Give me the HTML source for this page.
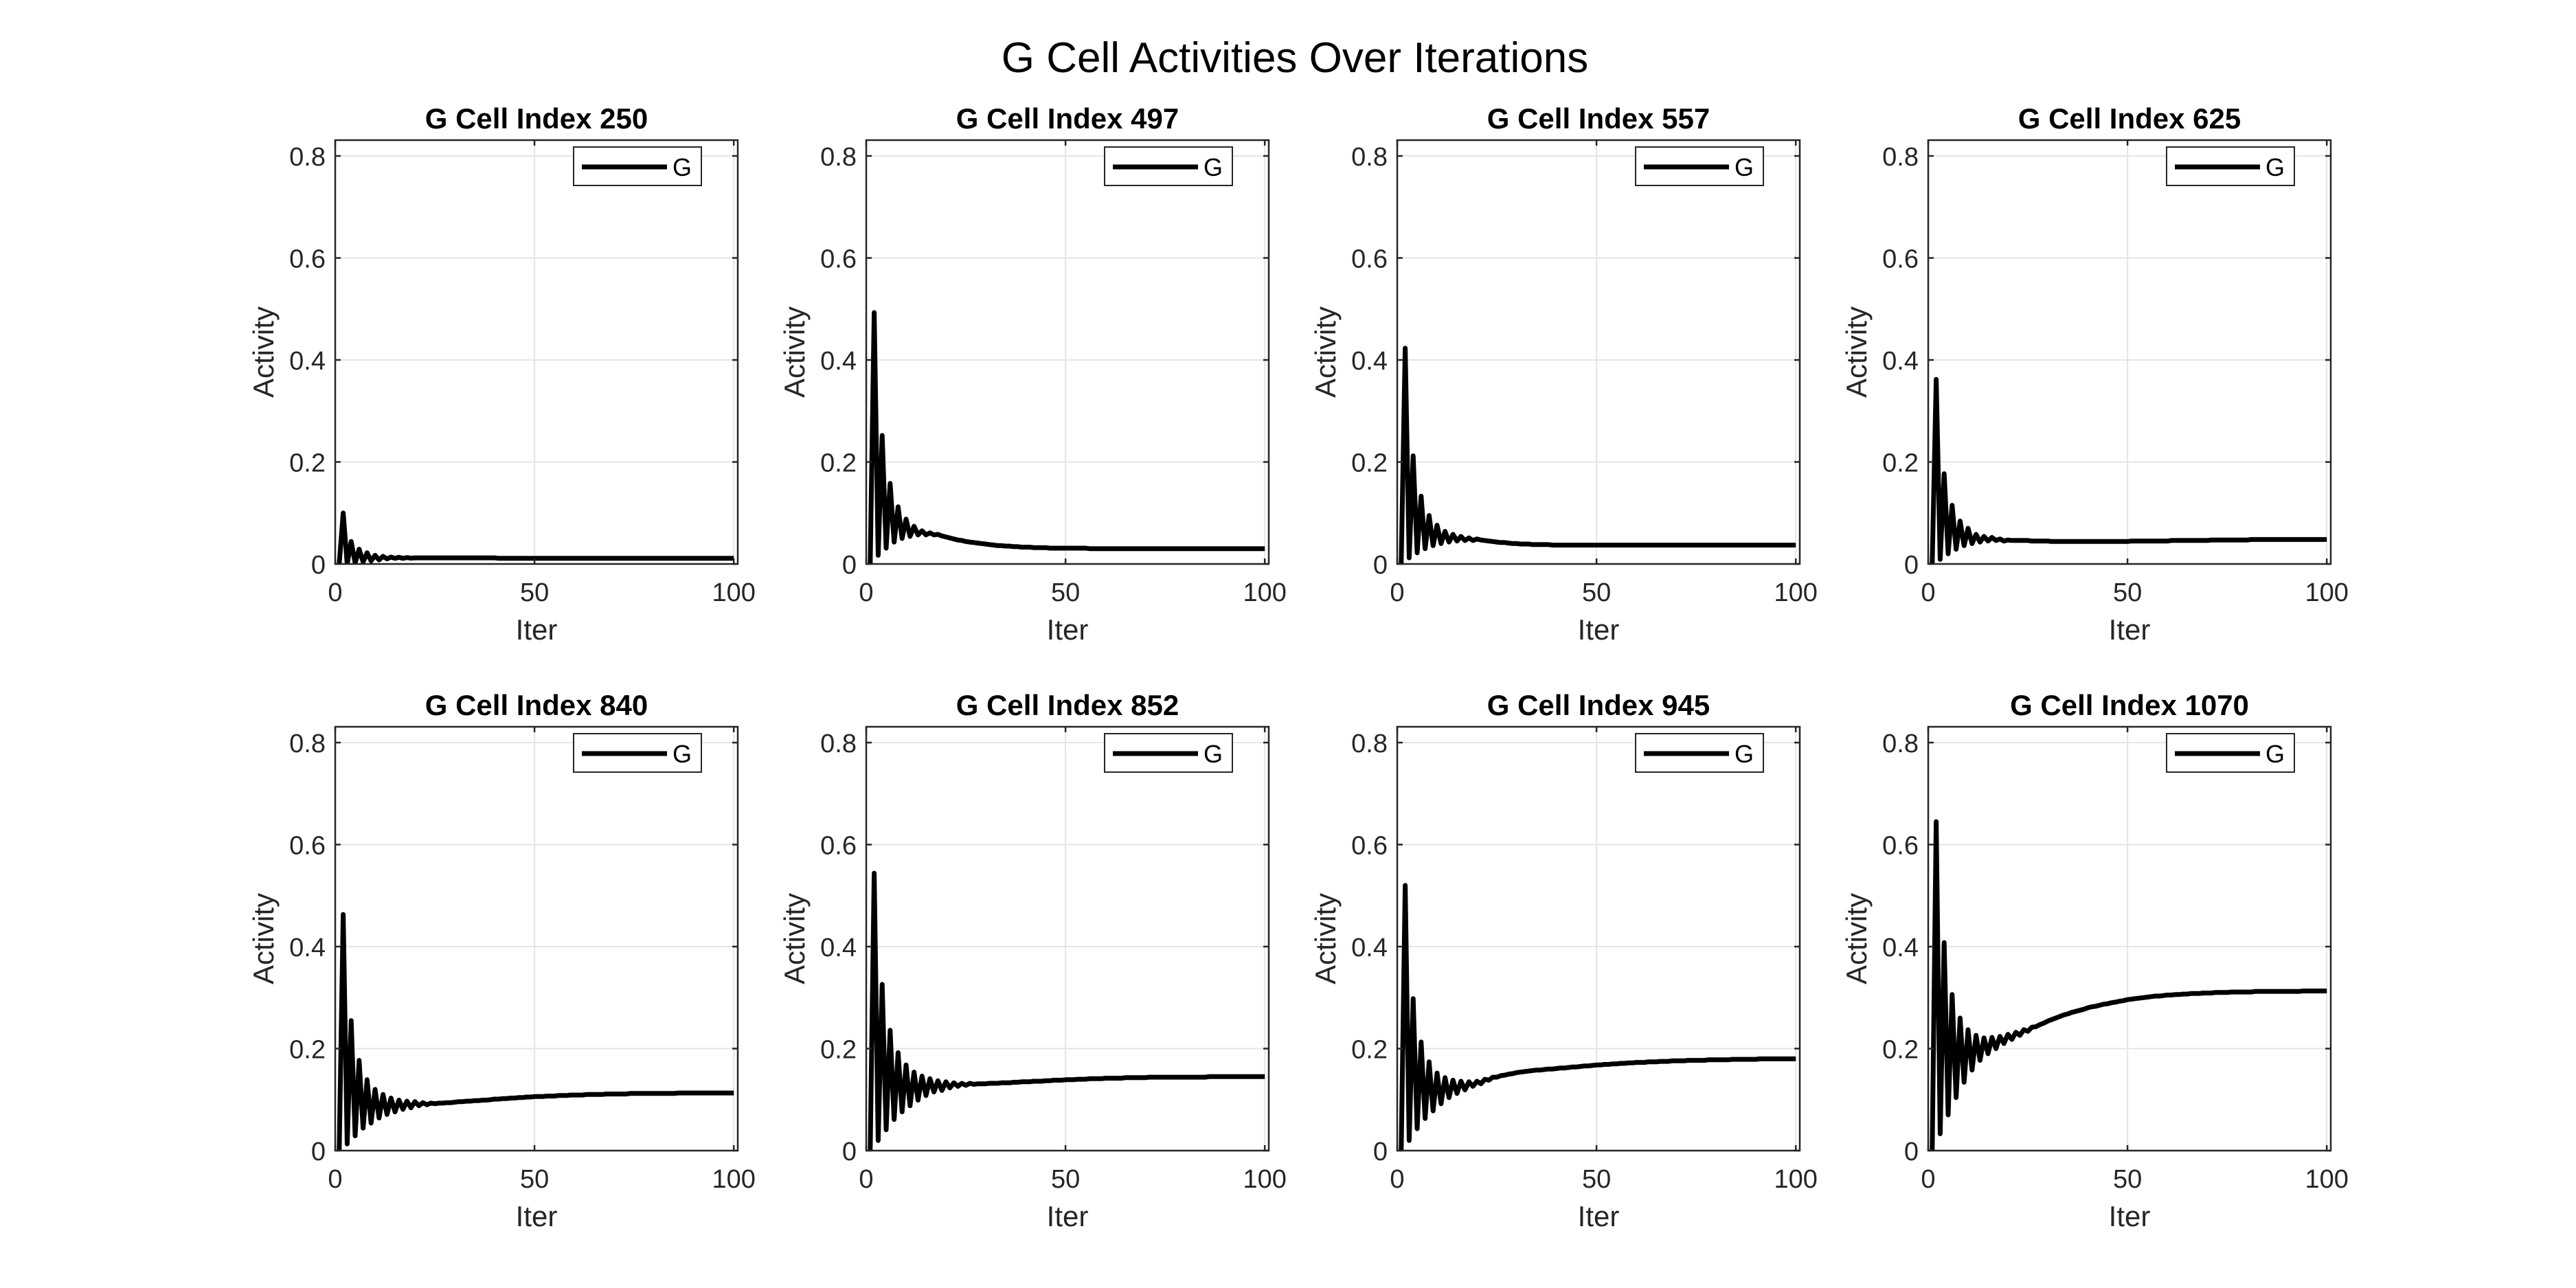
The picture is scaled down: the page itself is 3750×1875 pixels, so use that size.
<!DOCTYPE html>
<html><head><meta charset="utf-8"><style>
html,body{margin:0;padding:0;background:#fff;}
svg{display:block;font-family:"Liberation Sans",Arial,sans-serif;}
</style></head><body>
<svg id="fig" width="3750" height="1875" viewBox="0 0 3750 1875" xmlns="http://www.w3.org/2000/svg">
<rect width="3750" height="1875" fill="#fff"/>
<defs id="defs"></defs>
<text x="1885" y="105" font-size="62" text-anchor="middle" fill="#000">G Cell Activities Over Iterations</text>
</svg>
<script>
const titles = ["G Cell Index 250","G Cell Index 497","G Cell Index 557","G Cell Index 625","G Cell Index 840","G Cell Index 852","G Cell Index 945","G Cell Index 1070"];
const yTicks = [0,0.2,0.4,0.6,0.8];
const yTickLabels = ["0","0.2","0.4","0.6","0.8"];
const xTicks = [0,50,100];
const xTickLabels = ["0","50","100"];
const s250 = [0,0.100,0.000,0.044,0.002,0.029,0.004,0.022,0.006,0.017,
0.008,0.015,0.010,0.0135,0.011,0.013,0.011,0.0125,0.0115,0.012,
0.012,0.012,0.012,0.012,0.012,0.012,0.012,0.012,0.012,0.012,
0.012,0.012,0.012,0.012,0.012,0.012,0.012,0.012,0.012,0.012,
0.011,0.011,0.011,0.011,0.011,0.011,0.011,0.011,0.011,0.011,
0.011,0.011,0.011,0.011,0.011,0.011,0.011,0.011,0.011,0.011,
0.011,0.011,0.011,0.011,0.011,0.011,0.011,0.011,0.011,0.011,
0.011,0.011,0.011,0.011,0.011,0.011,0.011,0.011,0.011,0.011,
0.011,0.011,0.011,0.011,0.011,0.011,0.011,0.011,0.011,0.011,
0.011,0.011,0.011,0.011,0.011,0.011,0.011,0.011,0.011,0.011];
const s497 = [0,0.493,0.017,0.252,0.031,0.158,0.043,0.112,0.050,0.088,
0.054,0.074,0.057,0.065,0.057,0.061,0.057,0.058,0.055,0.053,
0.051,0.049,0.047,0.046,0.044,0.043,0.042,0.041,0.040,0.039,
0.038,0.037,0.036,0.036,0.035,0.035,0.034,0.034,0.033,0.033,
0.033,0.032,0.032,0.032,0.032,0.031,0.031,0.031,0.031,0.031,
0.031,0.031,0.031,0.031,0.031,0.030,0.030,0.030,0.030,0.030,
0.030,0.030,0.030,0.030,0.030,0.030,0.030,0.030,0.030,0.030,
0.030,0.030,0.030,0.030,0.030,0.030,0.030,0.030,0.030,0.030,
0.030,0.030,0.030,0.030,0.030,0.030,0.030,0.030,0.030,0.030,
0.030,0.030,0.030,0.030,0.030,0.030,0.030,0.030,0.030,0.030];
const s557 = [0,0.423,0.012,0.212,0.022,0.133,0.030,0.095,0.036,0.076,
0.040,0.064,0.043,0.058,0.045,0.054,0.046,0.051,0.046,0.049,
0.047,0.046,0.045,0.044,0.043,0.042,0.042,0.041,0.040,0.040,
0.039,0.039,0.039,0.038,0.038,0.038,0.038,0.038,0.037,0.037,
0.037,0.037,0.037,0.037,0.037,0.037,0.037,0.037,0.037,0.037,
0.037,0.037,0.037,0.037,0.037,0.037,0.037,0.037,0.037,0.037,
0.037,0.037,0.037,0.037,0.037,0.037,0.037,0.037,0.037,0.037,
0.037,0.037,0.037,0.037,0.037,0.037,0.037,0.037,0.037,0.037,
0.037,0.037,0.037,0.037,0.037,0.037,0.037,0.037,0.037,0.037,
0.037,0.037,0.037,0.037,0.037,0.037,0.037,0.037,0.037,0.037];
const s625 = [0,0.362,0.009,0.177,0.020,0.115,0.029,0.084,0.036,0.070,
0.040,0.058,0.043,0.054,0.045,0.052,0.046,0.049,0.045,0.047,
0.046,0.046,0.046,0.046,0.046,0.045,0.045,0.045,0.045,0.045,
0.044,0.044,0.044,0.044,0.044,0.044,0.044,0.044,0.044,0.044,
0.044,0.044,0.044,0.044,0.044,0.044,0.044,0.044,0.044,0.044,
0.045,0.045,0.045,0.045,0.045,0.045,0.045,0.045,0.045,0.045,
0.046,0.046,0.046,0.046,0.046,0.046,0.046,0.046,0.046,0.046,
0.047,0.047,0.047,0.047,0.047,0.047,0.047,0.047,0.047,0.047,
0.048,0.048,0.048,0.048,0.048,0.048,0.048,0.048,0.048,0.048,
0.048,0.048,0.048,0.048,0.048,0.048,0.048,0.048,0.048,0.048];
const s840 = [0,0.463,0.013,0.255,0.029,0.177,0.044,0.139,0.054,0.120,
0.064,0.110,0.071,0.103,0.076,0.099,0.081,0.097,0.084,0.096,
0.088,0.094,0.090,0.093,0.092,0.093,0.093,0.094,0.094,0.095,
0.096,0.096,0.097,0.097,0.098,0.098,0.099,0.099,0.100,0.101,
0.101,0.102,0.102,0.103,0.103,0.104,0.104,0.105,0.105,0.106,
0.106,0.106,0.107,0.107,0.107,0.108,0.108,0.108,0.109,0.109,
0.109,0.109,0.110,0.110,0.110,0.110,0.110,0.111,0.111,0.111,
0.111,0.111,0.111,0.112,0.112,0.112,0.112,0.112,0.112,0.112,
0.112,0.112,0.112,0.112,0.112,0.113,0.113,0.113,0.113,0.113,
0.113,0.113,0.113,0.113,0.113,0.113,0.113,0.113,0.113,0.113];
const s852 = [0,0.544,0.020,0.326,0.041,0.236,0.061,0.192,0.076,0.168,
0.088,0.154,0.099,0.146,0.108,0.141,0.115,0.137,0.118,0.135,
0.123,0.133,0.126,0.132,0.128,0.132,0.130,0.131,0.131,0.131,
0.132,0.132,0.132,0.133,0.133,0.133,0.134,0.134,0.135,0.135,
0.135,0.136,0.136,0.136,0.137,0.137,0.138,0.138,0.138,0.139,
0.139,0.139,0.140,0.140,0.140,0.141,0.141,0.141,0.141,0.142,
0.142,0.142,0.142,0.142,0.143,0.143,0.143,0.143,0.143,0.143,
0.144,0.144,0.144,0.144,0.144,0.144,0.144,0.144,0.144,0.144,
0.144,0.144,0.144,0.144,0.144,0.145,0.145,0.145,0.145,0.145,
0.145,0.145,0.145,0.145,0.145,0.145,0.145,0.145,0.145,0.145];
const s945 = [0,0.520,0.020,0.298,0.043,0.213,0.063,0.174,0.078,0.152,
0.092,0.143,0.104,0.138,0.112,0.136,0.119,0.135,0.126,0.136,
0.131,0.140,0.138,0.144,0.144,0.147,0.148,0.150,0.151,0.153,
0.154,0.155,0.156,0.157,0.158,0.158,0.159,0.160,0.160,0.161,
0.162,0.162,0.163,0.164,0.164,0.165,0.166,0.166,0.167,0.168,
0.168,0.169,0.169,0.170,0.170,0.171,0.171,0.172,0.172,0.173,
0.173,0.173,0.174,0.174,0.174,0.175,0.175,0.175,0.176,0.176,
0.176,0.176,0.177,0.177,0.177,0.177,0.177,0.178,0.178,0.178,
0.178,0.178,0.178,0.179,0.179,0.179,0.179,0.179,0.179,0.179,
0.180,0.180,0.180,0.180,0.180,0.180,0.180,0.180,0.180,0.180];
const s1070 = [0,0.645,0.033,0.408,0.070,0.306,0.104,0.260,0.134,0.237,
0.158,0.226,0.177,0.221,0.190,0.222,0.200,0.224,0.210,0.228,
0.218,0.232,0.226,0.237,0.234,0.242,0.243,0.247,0.250,0.254,
0.257,0.260,0.263,0.266,0.268,0.271,0.273,0.275,0.277,0.280,
0.282,0.283,0.285,0.287,0.288,0.290,0.291,0.293,0.294,0.296,
0.297,0.298,0.299,0.300,0.301,0.302,0.303,0.303,0.304,0.305,
0.305,0.306,0.306,0.307,0.307,0.308,0.308,0.308,0.309,0.309,
0.309,0.310,0.310,0.310,0.310,0.311,0.311,0.311,0.311,0.311,
0.311,0.312,0.312,0.312,0.312,0.312,0.312,0.312,0.312,0.312,
0.312,0.312,0.312,0.313,0.313,0.313,0.313,0.313,0.313,0.313];
const seriesList = [s250,s497,s557,s625,s840,s852,s945,s1070];

const NS = "http://www.w3.org/2000/svg";
const svg = document.getElementById('fig');
const defs = document.getElementById('defs');
const colLeft = [488,1261,2034,2807], rowTop = [204,1058];
const W = 586, H = 617, XMAX = 101, YMAX = 0.831;
function mk(tag, attrs, parent){const e=document.createElementNS(NS,tag);for(const k in attrs)e.setAttribute(k,attrs[k]);parent.appendChild(e);return e;}

seriesList.forEach((vals, p) => {
  const L = colLeft[p%4], T = rowTop[Math.floor(p/4)], B = T+H, R = L+W;
  const sx = v => L + v/XMAX*W;
  const sy = v => B - v/YMAX*H;
  const cp = mk('clipPath',{id:'clip'+p},defs);
  mk('rect',{x:L,y:T,width:W,height:H},cp);
  const g = mk('g', {}, svg);
  
  
  yTicks.forEach(t => { if (t>0){ const l=mk('line',{x1:L,x2:R,y1:sy(t),y2:sy(t),stroke:'#e5e5e5','stroke-width':2},g);
    
     }});
  xTicks.forEach(t => { if (t>0){ const l=mk('line',{x1:sx(t),x2:sx(t),y1:T,y2:B,stroke:'#e5e5e5','stroke-width':2},g);
    
     }});
  const pts = vals.map((v,i)=> sx(i+1).toFixed(1)+','+sy(v).toFixed(1)).join(' ');
  const line = mk('polyline',{points:pts,fill:'none',stroke:'#000','stroke-width':7,'stroke-linejoin':'round','clip-path':'url(#clip'+p+')'},g);
  
  
  const box = mk('rect',{x:L,y:T,width:W,height:H,fill:'none',stroke:'#262626','stroke-width':2.5},g);
  
  
  yTicks.forEach((t,i) => {
    mk('line',{x1:L,x2:L+8,y1:sy(t),y2:sy(t),stroke:'#262626','stroke-width':2.5},g);
    mk('line',{x1:R,x2:R-8,y1:sy(t),y2:sy(t),stroke:'#262626','stroke-width':2.5},g);
    const tx = mk('text',{x:L-14,y:sy(t)+14,'font-size':38,'text-anchor':'end',fill:'#262626'},g);
    tx.textContent = yTickLabels[i];
    
    
  });
  xTicks.forEach((t,i) => {
    mk('line',{x1:sx(t),x2:sx(t),y1:B,y2:B-8,stroke:'#262626','stroke-width':2.5},g);
    mk('line',{x1:sx(t),x2:sx(t),y1:T,y2:T+8,stroke:'#262626','stroke-width':2.5},g);
    const tx = mk('text',{x:sx(t),y:B+54,'font-size':38,'text-anchor':'middle',fill:'#262626'},g);
    tx.textContent = xTickLabels[i];
    
    
  });
  const xl = mk('text',{x:L+W/2,y:B+110,'font-size':42,'text-anchor':'middle',fill:'#262626'},g);
  xl.textContent = 'Iter';
  
  
  const yl = mk('text',{x:0,y:0,'font-size':42,'text-anchor':'middle',fill:'#262626',transform:`translate(${L-90},${T+H/2}) rotate(-90)`},g);
  yl.textContent = 'Activity';
  
  
  const tt = mk('text',{x:L+W/2,y:T-17,'font-size':42,'font-weight':'bold','text-anchor':'middle',fill:'#000'},g);
  tt.textContent = titles[p];
  
  
  const lg = mk('g',{},g);
  
  
  const lx = R-53-186, ly = T+10;
  mk('rect',{x:lx,y:ly,width:186,height:56,fill:'#fff',stroke:'#262626','stroke-width':2},lg);
  mk('line',{x1:lx+12,x2:lx+136,y1:ly+29,y2:ly+29,stroke:'#000','stroke-width':7},lg);
  const lt = mk('text',{x:lx+144,y:ly+42,'font-size':36,fill:'#000'},lg);
  lt.textContent = 'G';
  
  
});
</script>
</body></html>
